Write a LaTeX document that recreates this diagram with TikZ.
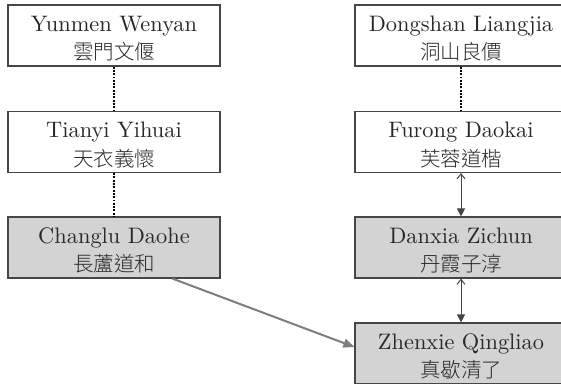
\documentclass[tikz,border=0pt]{standalone}
\usepackage{fontspec}
\setmainfont{lmroman10-regular}[Extension=.otf]
\newfontfamily\cjk{Noto Sans CJK TC}[UprightFont=* Light]
\usetikzlibrary{arrows.meta,calc}
\definecolor{boxgray}{RGB}{211,211,212}
\definecolor{txt}{RGB}{40,40,40}
\definecolor{edge}{RGB}{70,70,70}
\definecolor{link}{RGB}{125,125,125}
\newcommand{\zh}[1]{{\cjk\fontsize{20.5}{28.5}\selectfont #1}}
\tikzset{
 monk/.style={draw=edge, line width=1.2pt, minimum width=212pt, minimum height=61pt, inner sep=0pt},
 graybox/.style={monk, fill=boxgray},
 whitebox/.style={monk, fill=white},
 monkname/.style={inner sep=0pt, align=center, text=txt, font=\fontsize{22.4}{28.5}\selectfont, yshift=-3pt},
 lineage/.style={line width=1.9pt, dash pattern=on 1.9pt off 1.4pt, black},
 dharma/.style={draw=edge, line width=1pt, {Straight Barb[length=5pt,width=8pt]}-{Triangle[length=8pt,width=8pt]}},
 transmit/.style={draw=link, line width=2pt, -{Triangle[length=11pt,width=9pt]}}
}
\begin{document}
\begin{tikzpicture}[x=1pt,y=-1pt]
\useasboundingbox (0,0) rectangle (561,383);
\clip (0,0) rectangle (561,383);
\node[whitebox] (yw) at (114,35.5) {};
\node[whitebox] (ty) at (114,142) {};
\node[graybox] (cl) at (114,247.5) {};
\node[whitebox] (dl) at (461,35.5) {};
\node[whitebox] (fd) at (461,142) {};
\node[graybox] (dz) at (461,247.5) {};
\node[graybox] (zq) at (461,353.5) {};
\node[monkname] (yw-t) at (yw) {Yunmen Wenyan\\\zh{雲門文偃}};
\node[monkname] (ty-t) at (ty) {Tianyi Yihuai\\\zh{天衣義懷}};
\node[monkname] (cl-t) at (cl) {Changlu Daohe\\\zh{長蘆道和}};
\node[monkname] (dl-t) at (dl) {Dongshan Liangjia\\\zh{洞山良價}};
\node[monkname] (fd-t) at (fd) {Furong Daokai\\\zh{芙蓉道楷}};
\node[monkname] (dz-t) at (dz) {Danxia Zichun\\\zh{丹霞子淳}};
\node[monkname] (zq-t) at (zq) {Zhenxie Qingliao\\\zh{真歇清了}};
\draw[lineage] (yw) -- (ty);
\draw[lineage] (ty) -- (cl);
\draw[lineage] (dl) -- (fd);
\draw[dharma] (fd) -- (dz);
\draw[dharma] (dz) -- (zq);
\coordinate (clout) at ($(cl.south west)!0.774!(cl.south east)$);
\coordinate (zqin) at ($(zq.west)+(0,-6.5)$);
\draw[transmit] (clout) -- (zqin);
\end{tikzpicture}
\end{document}
